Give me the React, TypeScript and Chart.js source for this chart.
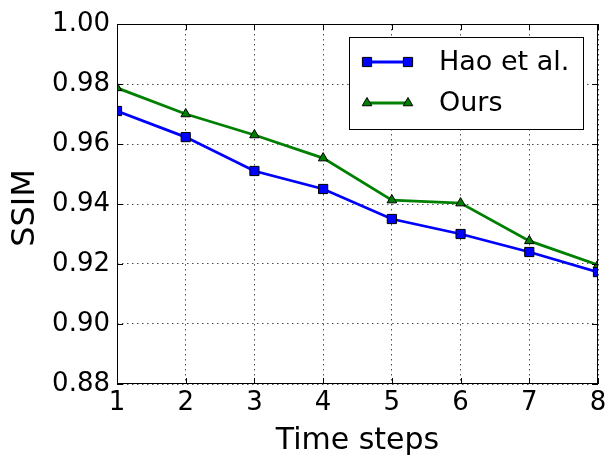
import React, { useEffect, useRef } from "react";
import { Chart, registerables } from "chart.js";

Chart.register(...registerables);

const TIME_STEPS = [1, 2, 3, 4, 5, 6, 7, 8];
const HAO = [0.971, 0.9623, 0.951, 0.945, 0.935, 0.930, 0.924, 0.9173];
const OURS = [0.9787, 0.970, 0.963, 0.9553, 0.9413, 0.9403, 0.9277, 0.9197];
const X_TICKS = [1, 2, 3, 4, 5, 6, 7, 8];
const Y_TICKS = [0.88, 0.90, 0.92, 0.94, 0.96, 0.98, 1.00];
const SERIES_NAMES = ["Hao et al.", "Ours"];
const X_TITLE = "Time steps";
const Y_TITLE = "SSIM";
const FONT = "'DejaVu Sans', sans-serif";

const BLUE = "#0000ff";
const GREEN = "#008000";

function drawMarker(ctx: CanvasRenderingContext2D, style: string, x: number, y: number, r: number) {
  ctx.beginPath();
  if (style === "rect") {
    const s = Math.SQRT1_2 * r;
    ctx.rect(x - s, y - s, 2 * s, 2 * s);
  } else {
    ctx.moveTo(x, y - r);
    ctx.lineTo(x + (r * Math.sqrt(3)) / 2, y + r / 2);
    ctx.lineTo(x - (r * Math.sqrt(3)) / 2, y + r / 2);
    ctx.closePath();
  }
  ctx.fill();
  ctx.stroke();
}

const framePlugin = {
  id: "frameTicksLegend",
  afterDatasetsDraw(chart: any) {
    const { ctx, chartArea: a, scales } = chart;
    ctx.save();
    ctx.strokeStyle = "#000";
    ctx.lineWidth = 1;
    const L = 6;
    ctx.beginPath();
    for (const v of X_TICKS) {
      const px = Math.round(scales.x.getPixelForValue(v)) + 0.5;
      ctx.moveTo(px, a.bottom);
      ctx.lineTo(px, a.bottom - L);
      ctx.moveTo(px, a.top);
      ctx.lineTo(px, a.top + L);
    }
    for (const v of Y_TICKS) {
      const py = Math.round(scales.y.getPixelForValue(v)) + 0.5;
      ctx.moveTo(a.left, py);
      ctx.lineTo(a.left + L, py);
      ctx.moveTo(a.right, py);
      ctx.lineTo(a.right - L, py);
    }
    ctx.stroke();
    ctx.strokeRect(a.left + 0.5, a.top + 0.5, a.right - a.left - 1, a.bottom - a.top - 1);

    // y-axis title
    ctx.save();
    ctx.translate(26, (a.top + a.bottom) / 2 + 4);
    ctx.rotate(-Math.PI / 2);
    ctx.fillStyle = "#000";
    ctx.font = `32px ${FONT}`;
    ctx.textAlign = "center";
    ctx.textBaseline = "middle";
    ctx.fillText(Y_TITLE, 0, 0);
    ctx.restore();

    // legend
    const bx = 349, by = 37, bw = 234, bh = 92;
    ctx.fillStyle = "#fff";
    ctx.fillRect(bx, by, bw, bh);
    ctx.strokeStyle = "#000";
    ctx.lineWidth = 1;
    ctx.strokeRect(bx + 0.5, by + 0.5, bw, bh);
    const rows = [
      { y: 62, color: BLUE, style: "rect", r: 6.5 },
      { y: 103, color: GREEN, style: "triangle", r: 5.5 },
    ];
    rows.forEach((row, i) => {
      ctx.strokeStyle = row.color;
      ctx.lineWidth = 2.8;
      ctx.beginPath();
      ctx.moveTo(367, row.y);
      ctx.lineTo(408, row.y);
      ctx.stroke();
      for (const x of [367, 408]) {
        ctx.fillStyle = row.color;
        ctx.strokeStyle = "#000";
        ctx.lineWidth = 1;
        drawMarker(ctx, row.style, x, row.y, row.r);
      }
      ctx.fillStyle = "#000";
      ctx.font = `27px ${FONT}`;
      ctx.textBaseline = "middle";
      ctx.textAlign = "left";
      ctx.fillText(SERIES_NAMES[i], 439, row.y + 1);
    });
    ctx.restore();
  },
};

export default function App() {
  const ref = useRef<HTMLCanvasElement>(null);
  useEffect(() => {
    document.body.style.margin = "0";
    const canvas = ref.current!;
    const chart = new Chart(canvas, {
      type: "line",
      data: {
        datasets: [
          {
            label: SERIES_NAMES[0],
            data: TIME_STEPS.map((x, i) => ({ x, y: HAO[i] })),
            borderColor: BLUE,
            backgroundColor: BLUE,
            borderWidth: 2.8,
            pointStyle: "rect",
            pointRadius: 6.5,
            pointBorderColor: "#000",
            pointBorderWidth: 1,
            pointBackgroundColor: BLUE,
            clip: 0,
          },
          {
            label: SERIES_NAMES[1],
            data: TIME_STEPS.map((x, i) => ({ x, y: OURS[i] })),
            borderColor: GREEN,
            backgroundColor: GREEN,
            borderWidth: 2.8,
            pointStyle: "triangle",
            pointRadius: 5.5,
            pointBorderColor: "#000",
            pointBorderWidth: 1,
            pointBackgroundColor: GREEN,
            clip: 0,
          },
        ],
      },
      options: {
        animation: false,
        responsive: false,
        devicePixelRatio: 1,
        layout: { padding: { left: 0, top: 24, right: 18, bottom: 0 } },
        plugins: { legend: { display: false }, tooltip: { enabled: false } },
        scales: {
          x: {
            type: "linear",
            min: 1,
            max: 8,
            afterBuildTicks: (s: any) => {
              s.ticks = X_TICKS.map((v) => ({ value: v }));
            },
            afterFit: (s: any) => {
              s.height = 79;
            },
            ticks: {
              font: { family: FONT, size: 26 },
              color: "#000",
              padding: 4,
              maxRotation: 0,
              callback: (v: any) => String(v),
            },
            grid: {
              color: "#000",
              lineWidth: 0.7,
              drawTicks: false,
            },
            border: { display: false, dash: [1.5, 3.5] },
            title: {
              display: true,
              text: X_TITLE,
              font: { family: FONT, size: 30 },
              color: "#000",
              padding: { top: 0, bottom: 4 },
            },
          },
          y: {
            type: "linear",
            min: 0.88,
            max: 1.0,
            afterBuildTicks: (s: any) => {
              s.ticks = Y_TICKS.map((v) => ({ value: v }));
            },
            afterFit: (s: any) => {
              s.width = 117;
            },
            ticks: {
              font: { family: FONT, size: 26 },
              color: "#000",
              padding: 7,
              callback: (v: any) => Number(v).toFixed(2),
            },
            grid: {
              color: "#000",
              lineWidth: 0.7,
              drawTicks: false,
            },
            border: { display: false, dash: [1.5, 3.5] },
            title: { display: false },
          },
        },
      },
      plugins: [framePlugin],
    } as any);
    return () => chart.destroy();
  }, []);
  return (
    <div style={{ width: 616, height: 463 }}>
      <canvas ref={ref} width={616} height={463} style={{ display: "block" }} />
    </div>
  );
}
